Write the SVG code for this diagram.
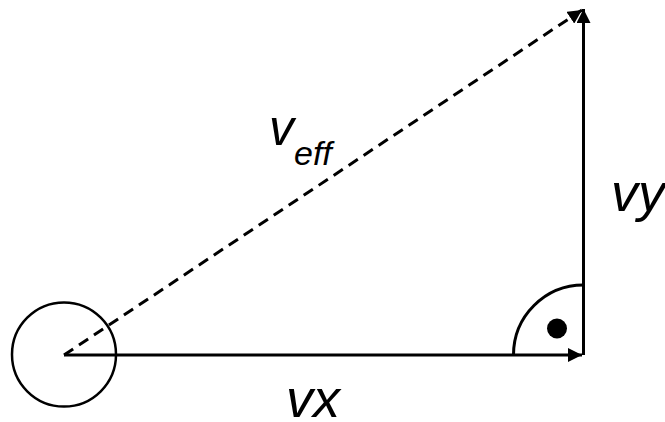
<svg xmlns="http://www.w3.org/2000/svg" width="665" height="422" viewBox="0 0 665 422">
<defs>
<marker id="arr" markerUnits="userSpaceOnUse" markerWidth="14" markerHeight="14" viewBox="0 0 12 12" refX="12" refY="6" orient="auto">
<path d="M0,0 L12,6 L0,12 Z" fill="#000"/>
</marker>
</defs>
<style>
.ln{stroke:#000;stroke-width:3;fill:none}
.lbl{font-family:"Liberation Sans",Arial,sans-serif;font-style:italic;fill:#000}
</style>
<rect width="665" height="422" fill="#fff"/>
<g id="connectors">
<line class="ln" x1="64" y1="355" x2="582" y2="355" marker-end="url(#arr)"/>
<line class="ln" x1="583.5" y1="355" x2="583.5" y2="9" marker-end="url(#arr)"/>
<line class="ln" x1="64" y1="355" x2="582" y2="10" stroke-dasharray="11,7" stroke-width="2.8" marker-end="url(#arr)"/>
</g>
<g id="body">
<circle cx="64" cy="354.5" r="52" fill="none" stroke="#000" stroke-width="2.5"/>
</g>
<g id="right-angle">
<path class="ln" d="M513.5,355 A70,70 0 0 1 583.5,285"/>
<circle cx="557" cy="328.5" r="10" fill="#000"/>
</g>
<g id="label-veff">
<text class="lbl" x="269" y="145" font-size="50">v<tspan font-size="34" dy="20">eff</tspan></text>
</g>
<g id="label-vy">
<text class="lbl" x="611" y="211" font-size="54">vy</text>
</g>
<g id="label-vx">
<text class="lbl" x="286" y="417" font-size="54">vx</text>
</g>
</svg>
